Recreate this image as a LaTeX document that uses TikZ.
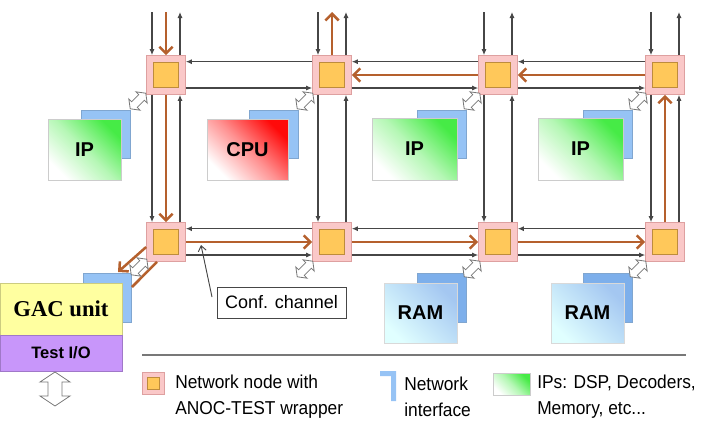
\documentclass[tikz,border=0pt]{standalone}
\usepackage{fontspec}
\setmainfont{Liberation Sans}
\newfontfamily\timesf{Liberation Serif}
\newfontfamily\narrowf[FakeStretch=0.93]{Liberation Sans}
\usetikzlibrary{arrows.meta,calc}
\definecolor{brn}{RGB}{181,96,45}
\definecolor{pinkf}{RGB}{250,200,200}
\definecolor{pinkb}{RGB}{222,160,160}
\definecolor{orangef}{RGB}{255,200,90}
\definecolor{orangeb}{RGB}{190,140,60}
\definecolor{linegray}{RGB}{70,70,70}
\definecolor{niblue}{RGB}{150,195,245}
\definecolor{ramback}{RGB}{125,175,235}
\definecolor{ipgreen}{RGB}{70,235,70}
\definecolor{cpured}{RGB}{255,10,10}
\definecolor{gacyel}{RGB}{255,255,160}
\definecolor{gacpur}{RGB}{200,150,250}
\definecolor{symgray}{RGB}{120,120,120}
\tikzset{
  pics/nisym/.style={code={
    \draw[symgray, fill=white, line width=0.6pt] (0,-11) -- (8,-5) -- (4,-5) -- (4,5) -- (8,5) -- (0,11) -- (-8,5) -- (-4,5) -- (-4,-5) -- (-8,-5) -- cycle;
  }},
  pics/iosym/.style={code={
    \draw[symgray, fill=white, line width=0.6pt] (0,-17) -- (15,-7) -- (7,-7) -- (7,7) -- (15,7) -- (0,17) -- (-15,7) -- (-7,7) -- (-7,-7) -- (-15,-7) -- cycle;
  }}
}
\begin{document}
\begin{tikzpicture}[x=0.75pt,y=-0.75pt,
  netnode/.style={draw=pinkb, fill=pinkf, minimum size=29.25pt, inner sep=0pt, line width=0.5pt},
  netcore/.style={draw=orangeb, fill=orangef, minimum size=18.75pt, inner sep=0pt, line width=0.5pt},
  lk/.style={draw=linegray, line width=0.8pt, -{Latex[length=4.5pt,width=3.8pt]}},
  lkplain/.style={draw=linegray, line width=0.8pt},
  br/.style={draw=brn, line width=1.9pt, -{Straight Barb[length=5pt,width=10pt]}},
  brplain/.style={draw=brn, line width=1.9pt},
  niback/.style={fill=niblue, draw=niblue!85!black, line width=0.3pt, inner sep=0pt},
  ipbox/.style={draw=black!20, line width=0.6pt, inner sep=0pt,
     top color=ipgreen, bottom color=white, middle color=ipgreen!40!white, shading angle=-45,
     font=\fontsize{15}{18}\selectfont\bfseries},
  cpubox/.style={draw=black!20, line width=0.6pt, inner sep=0pt,
     top color=cpured, bottom color=white, middle color=cpured!45!white, shading angle=-45,
     font=\fontsize{15}{18}\selectfont\bfseries},
  rambox/.style={draw=black!15, line width=0.6pt, inner sep=0pt,
     top color=ramback!70!white, bottom color=cyan!12!white, shading angle=-45,
     font=\fontsize{15}{18}\selectfont\bfseries},
  legtext/.style={anchor=west, align=left, inner sep=0pt, font=\narrowf\fontsize{14}{19.5}\selectfont}
]
\useasboundingbox (0,0) rectangle (703,429);

% ---------- IP blocks (row 1) ----------
\node[niback, minimum width=36.75pt, minimum height=36pt] (ni1) at (105.5,134) {};
\node[ipbox, minimum width=54.75pt, minimum height=45.75pt] (ip1) at (84.5,149.5) {IP};
\node[niback, minimum width=36.75pt, minimum height=36pt] (ni2) at (273.5,134) {};
\node[cpubox, minimum width=60.75pt, minimum height=45.75pt] (cpu) at (247.5,149.5) {CPU};
\node[niback, minimum width=36.75pt, minimum height=36pt] (ni3) at (441.5,134) {};
\node[ipbox, minimum width=63.75pt, minimum height=46.5pt] (ip3) at (414.5,149) {IP};
\node[niback, minimum width=36.75pt, minimum height=36pt] (ni4) at (608,134) {};
\node[ipbox, minimum width=63.75pt, minimum height=46.5pt] (ip4) at (580.5,149) {IP};

% ---------- RAM blocks ----------
\node[niback, fill=ramback, minimum width=36.75pt, minimum height=36.75pt] (ni7) at (441.5,297.5) {};
\node[rambox, minimum width=54.75pt, minimum height=45pt] (ram1) at (420.5,313) {RAM};
\node[niback, fill=ramback, minimum width=36.75pt, minimum height=36.75pt] (ni8) at (608,297.5) {};
\node[rambox, minimum width=54.75pt, minimum height=45pt] (ram2) at (587.5,313) {RAM};

% ---------- GAC ----------
\node[niback, minimum width=36pt, minimum height=36.75pt] (ni5) at (107,297.5) {};
\node[fill=gacyel, draw=gacyel!80!black, line width=0.3pt, minimum width=91.5pt, minimum height=39pt, inner sep=0pt,
      font=\timesf\fontsize{17}{20}\selectfont\bfseries] (gac) at (61,309) {GAC unit};
\node[fill=gacpur, draw=gacpur!80!black, line width=0.3pt, minimum width=91.5pt, minimum height=27pt, inner sep=0pt,
      font=\fontsize{12.4}{15}\selectfont\bfseries] (tio) at (61,353) {Test I/O};
\pic at (55,389) {iosym};

% ---------- network nodes ----------
\foreach \c/\x in {1/166,2/332,3/498,4/665}{
  \foreach \r/\y in {1/75,2/242}{
    \node[netnode] (n\r\c) at (\x,\y) {};
    \node[netcore] (k\r\c) at (\x,\y) {};
  }
  \coordinate (top\c) at (\x,12);
}

% horizontal thin links
\foreach \r in {1,2}{
  \foreach \a/\b in {1/2,2/3,3/4}{
    \draw[lk] ([yshift=10pt]n\r\b.west) -- ([yshift=10pt]n\r\a.east);
    \draw[lk] ([yshift=-9.75pt]n\r\a.east) -- ([yshift=-9.75pt]n\r\b.west);
  }
}
% vertical thin links
\foreach \c in {1,2,3,4}{
  \draw[lk] ([xshift=-10.5pt]top\c) -- ([xshift=-10.5pt]n1\c.north);
  \draw[lk] ([xshift=10.5pt]n1\c.north) -- ([xshift=10.5pt]top\c);
  \draw[lk] ([xshift=-10.5pt]n1\c.south) -- ([xshift=-10.5pt]n2\c.north);
  \draw[lk] ([xshift=10.5pt]n2\c.north) -- ([xshift=10.5pt]n1\c.south);
}

% brown configuration channel
\draw[br] (top1) -- (n11.north);
\draw[br] (n11.south) -- (n21.north);
\draw[br] (n12.north) -- (top2);
\draw[br] (n13.west) -- (n12.east);
\draw[br] (n14.west) -- (n13.east);
\draw[br] (n24.north) -- (n14.south);
\draw[br] (n21.east) -- (n22.west);
\draw[br] (n22.east) -- (n23.west);
\draw[br] (n23.east) -- (n24.west);
\coordinate (gacA) at (118,272);
\coordinate (gacB) at (132,287);
\draw[br] ([yshift=-3.75pt]n21.west) -- (gacA);
\draw[brplain] (gacB) -- ([xshift=-6.75pt]n21.south);

% NI symbols
\foreach \x in {138,305,472,638}{ \pic[rotate=-45] at (\x,101) {nisym}; }
\foreach \x in {305,472,638}{ \pic[rotate=-45] at (\x,269) {nisym}; }
\pic[rotate=-45] at (139,267) {nisym};

% Conf. channel label
\node[draw=linegray, fill=white, line width=0.7pt, minimum width=96.75pt, minimum height=23.25pt, inner sep=0pt,
      font=\fontsize{13.5}{16}\selectfont] (conf) at (281.5,302.5) {Conf. channel};
\coordinate (confp) at (201,245);
\draw[linegray, line width=0.7pt, -{Straight Barb[length=4pt,width=6pt]}] (212,297) -- (confp);

% ---------- legend ----------
\draw[symgray, line width=1.6pt] (142,355) -- (686,355);
\node[netnode, minimum size=16.5pt] (lg1) at (153,383) {};
\node[netcore, minimum size=9pt] (lg1c) at (153,383) {};
\node[legtext] (lt1) at (175,397) {Network node with\\ANOC-TEST wrapper};
\fill[niblue] (380,371) -- (396,371) -- (396,401) -- (391,401) -- (391,376) -- (380,376) -- cycle;
\node[legtext] (lt2) at (404,397) {Network\\interface};
\node[draw=black!20, line width=0.6pt, top color=ipgreen, bottom color=white, middle color=ipgreen!40!white, shading angle=-45,
      minimum width=27.75pt, minimum height=16.5pt, inner sep=0pt] (lg3) at (511.5,384) {};
\node[legtext] (lt3) at (537,397) {IPs: DSP, Decoders,\\Memory, etc...};
\end{tikzpicture}
\end{document}
